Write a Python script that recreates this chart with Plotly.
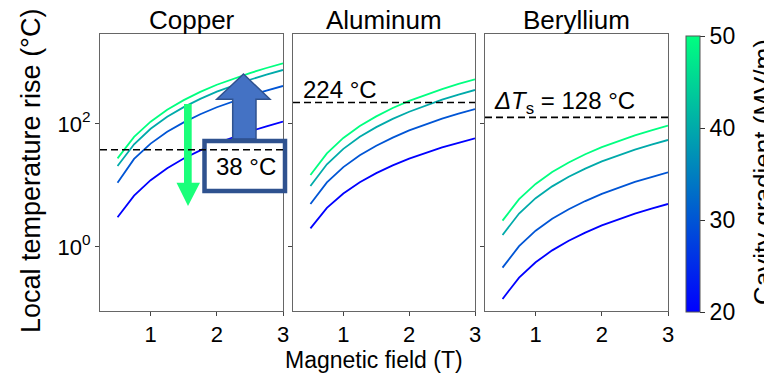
import math
import plotly.graph_objects as go
from plotly.subplots import make_subplots

# ---------------- data ----------------
field_T = [0.5, 0.75, 1.0, 1.25, 1.5, 1.75, 2.0, 2.25, 2.5, 2.75, 3.0]
gradients = [20, 30, 40, 50]  # MV/m
materials = ["Copper", "Aluminum", "Beryllium"]

copper_20 = [3.05, 6.85, 12.2, 19.1, 27.4, 37.2, 48.6, 61.4, 75.9, 91.6, 109]
copper_30 = [11.1, 27.0, 48.0, 75.0, 106, 144, 187, 236, 290, 350, 415]
copper_40 = [20.7, 46.8, 83.4, 131, 188, 256, 335, 424, 524, 634, 755]
copper_50 = [27.6, 61.7, 109, 171, 244, 332, 434, 546, 673, 813, 968]

aluminum_20 = [2.01, 4.32, 7.41, 11.3, 15.9, 21.2, 27.3, 34.0, 41.5, 49.5, 58.5]
aluminum_30 = [5.01, 11.2, 19.9, 31.0, 44.3, 60.1, 78.5, 98.9, 122, 147, 175]
aluminum_40 = [9.82, 22.1, 39.4, 61.8, 88.9, 121, 158, 200, 248, 300, 357]
aluminum_50 = [14.8, 33.3, 59.3, 92.9, 133, 182, 237, 299, 370, 448, 533]

beryllium_20 = [0.143, 0.318, 0.565, 0.881, 1.26, 1.71, 2.24, 2.82, 3.48, 4.20, 5.00]
beryllium_30 = [0.461, 1.03, 1.84, 2.87, 4.11, 5.58, 7.31, 9.20, 11.4, 13.7, 16.4]
beryllium_40 = [1.57, 3.50, 6.21, 9.68, 13.9, 18.8, 24.6, 31.0, 38.2, 46.1, 55.0]
beryllium_50 = [2.68, 5.98, 10.6, 16.6, 23.7, 32.2, 42.1, 53.0, 65.3, 78.9, 94.0]

threshold_C = [38, 224, 128]  # surface temperature limits
threshold_text = ["38 °C", "224 °C", "<i>ΔT</i><sub>s</sub> = 128 °C"]

ytick_vals = [1, 100]
ytick_text = ["10<sup>0</sup>", "10<sup>2</sup>"]
xtick_vals = [1, 2, 3]
cbar_ticks = [20, 30, 40, 50]

series = {
    "Copper": [copper_20, copper_30, copper_40, copper_50],
    "Aluminum": [aluminum_20, aluminum_30, aluminum_40, aluminum_50],
    "Beryllium": [beryllium_20, beryllium_30, beryllium_40, beryllium_50],
}

# ---------------- style ----------------
FONT = "Liberation Sans, Arial, Helvetica, sans-serif"
W, H = 764, 373
ML, MR, MT, MB = 100, 96, 34, 62
PW, PH = W - ML - MR, H - MT - MB
YR = [-1.041, 3.463]
XR = [0.235, 3.0]

# MATLAB "winter" colormap
winter = [[0.0, "rgb(0,0,255)"], [1.0, "rgb(0,255,128)"]]
gmin, gmax = 20, 50


def winter_color(g):
    t = (g - gmin) / (gmax - gmin)
    return f"rgb(0,{round(255 * t)},{round(255 - 127 * t)})"


def px(xp, yp):
    """pixel -> paper coordinates"""
    return (xp - ML) / PW, (H - MB - yp) / PH


fig = make_subplots(rows=1, cols=3, shared_yaxes=True, horizontal_spacing=10 / PW)

for ci, mat in enumerate(materials, start=1):
    for g, vals in zip(gradients, series[mat]):
        fig.add_trace(
            go.Scatter(x=field_T, y=vals, mode="lines",
                       line=dict(color=winter_color(g), width=1.8),
                       showlegend=False, hoverinfo="skip"),
            row=1, col=ci)

# colour bar via a dummy trace
fig.add_trace(go.Scatter(
    x=[None], y=[None], mode="markers", showlegend=False, hoverinfo="skip",
    marker=dict(color=[gmin], cmin=gmin, cmax=gmax, colorscale=winter, showscale=True,
                colorbar=dict(thickness=14, len=276, lenmode="pixels",
                              x=(686 - ML) / PW, xanchor="left", xpad=0,
                              y=(H - MB - 174) / PH, yanchor="middle", ypad=0,
                              outlinewidth=1, outlinecolor="#555",
                              tickvals=cbar_ticks, ticks="outside", ticklen=5,
                              tickcolor="#333", tickwidth=1,
                              tickfont=dict(size=23, color="black", family=FONT))),
), row=1, col=3)

# domains
doms = [[0, 183 / PW], [193 / PW, 375 / PW], [385 / PW, 1]]
axis_common = dict(showline=True, mirror=True, linecolor="#666", linewidth=1,
                   ticks="outside", ticklen=4, tickcolor="#444", showgrid=False,
                   zeroline=False, tickfont=dict(size=22, color="black", family=FONT))
for i in range(3):
    sfx = "" if i == 0 else str(i + 1)
    fig.layout["xaxis" + sfx].update(domain=doms[i], range=XR, tickvals=xtick_vals, **axis_common)
    fig.layout["yaxis" + sfx].update(type="log", range=YR, tickvals=ytick_vals,
                                     ticktext=ytick_text, **axis_common)
    if i > 0:
        fig.layout["yaxis" + sfx].update(showticklabels=False)

fig.update_layout(
    width=W, height=H, margin=dict(l=ML, r=MR, t=MT, b=MB),
    paper_bgcolor="white", plot_bgcolor="white",
    font=dict(family=FONT, color="black"),
)

shapes = []
annotations = []


def poly(points):
    return "M " + " L ".join(f"{px(a, b)[0]:.5f},{px(a, b)[1]:.5f}" for a, b in points) + " Z"


# green arrow (down)
shapes.append(dict(type="path", xref="paper", yref="paper",
                   path=poly([(184, 104), (184, 182.7), (176.5, 182.7), (188, 206),
                              (200, 182.7), (191.7, 182.7), (191.7, 104)]),
                   fillcolor="#1aff7a", line=dict(width=0), layer="above"))
# blue arrow (up)
shapes.append(dict(type="path", xref="paper", yref="paper",
                   path=poly([(232.7, 139), (232.7, 99.3), (216.7, 99.3), (243.5, 74),
                              (270, 99.3), (256, 99.3), (256, 139)]),
                   fillcolor="#4472c4", line=dict(width=1.5, color="#2f528f"), layer="above"))
# box
bx0, by0 = px(204.5, 191)
bx1, by1 = px(285, 141)
shapes.append(dict(type="rect", xref="paper", yref="paper", x0=bx0, y0=by0, x1=bx1, y1=by1,
                   fillcolor="white", line=dict(width=4.5, color="#2f528f"), layer="above"))

# threshold lines
for i, thr in enumerate(threshold_C):
    sfx = "" if i == 0 else str(i + 1)
    frac = (math.log10(thr) - YR[0]) / (YR[1] - YR[0])
    shapes.append(dict(type="line", xref="x" + sfx + " domain", yref="y" + sfx + " domain",
                       x0=0, x1=1, y0=frac, y1=frac,
                       line=dict(color="black", width=1.6, dash="7px,4px"), layer="above"))

fig.update_layout(shapes=shapes)

# titles
for i, mat in enumerate(materials):
    annotations.append(dict(text=mat, xref="paper", yref="paper",
                            x=(doms[i][0] + doms[i][1]) / 2, y=px(0, 20)[1],
                            xanchor="center", yanchor="middle", showarrow=False,
                            font=dict(size=26, color="black", family=FONT)))

# annotation texts
ax, ay = px(246, 166)
annotations.append(dict(text=threshold_text[0], xref="paper", yref="paper", x=ax, y=ay,
                        showarrow=False, xanchor="center", yanchor="middle",
                        font=dict(size=24, color="black", family=FONT)))
ax, ay = px(301, 89)
annotations.append(dict(text=threshold_text[1], xref="paper", yref="paper", x=ax, y=ay,
                        showarrow=False, xanchor="left", yanchor="middle",
                        font=dict(size=24, color="black", family=FONT)))
ax, ay = px(492, 102)
annotations.append(dict(text=threshold_text[2], xref="paper", yref="paper", x=ax, y=ay,
                        showarrow=False, xanchor="left", yanchor="middle",
                        font=dict(size=24, color="black", family=FONT)))

# axis titles
ax, ay = px(374, 345)
annotations.append(dict(text="Magnetic field (T)", xref="paper", yref="paper", x=ax, y=ay,
                        showarrow=False, xanchor="center", yanchor="top",
                        font=dict(size=23, color="black", family=FONT)))
ax, ay = px(31, 171)
annotations.append(dict(text="Local temperature rise (°C)", xref="paper", yref="paper",
                        x=ax, y=ay, textangle=-90, showarrow=False,
                        xanchor="center", yanchor="middle",
                        font=dict(size=27, color="black", family=FONT)))
ax, ay = px(763, 172)
annotations.append(dict(text="Cavity gradient (MV/m)", xref="paper", yref="paper",
                        x=ax, y=ay, textangle=-90, showarrow=False,
                        xanchor="center", yanchor="middle",
                        font=dict(size=26, color="black", family=FONT)))

fig.update_layout(annotations=annotations)

fig.write_html("out.html", config={"displayModeBar": False},
               post_script="document.body.style.margin='0px';")
